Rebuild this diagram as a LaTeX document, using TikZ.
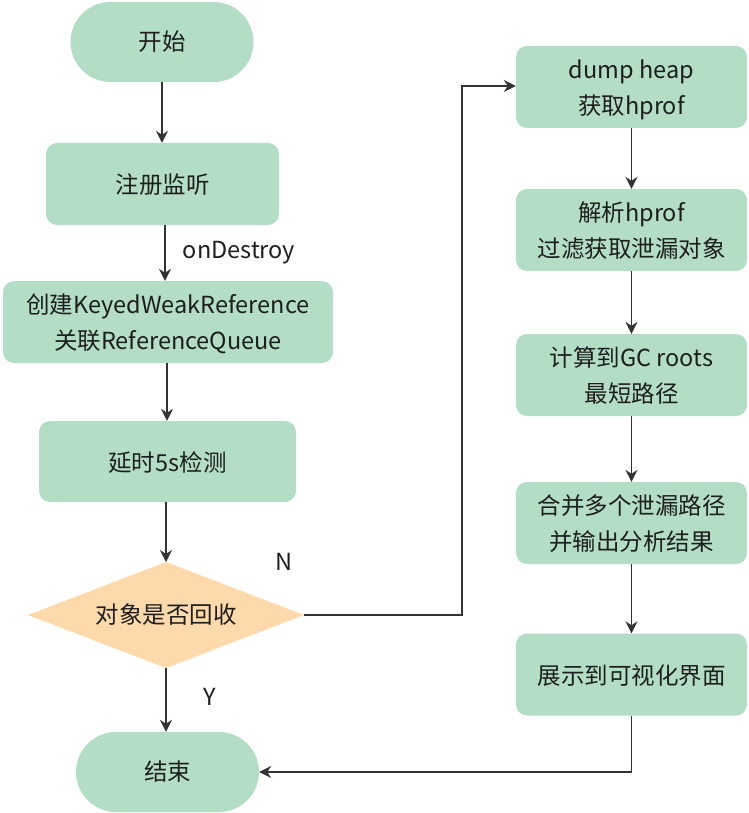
\documentclass[tikz,border=0pt]{standalone}
\usepackage{fontspec}
\setmainfont{Noto Sans CJK SC}
\usetikzlibrary{arrows.meta,positioning}
\definecolor{boxgreen}{HTML}{B3DEC5}
\definecolor{diaorange}{HTML}{FDD9AB}
\definecolor{linegray}{HTML}{333333}
\definecolor{txt}{HTML}{1E1E1E}
\begin{document}
\begin{tikzpicture}[x=1pt,y=-1pt,
  every node/.style={font=\fontsize{23.5}{36}\selectfont, text=txt},
  procbox/.style={draw=none, fill=boxgreen, rounded corners=11pt, align=center, inner sep=0pt, text depth=0pt},
  termbox/.style={draw=none, fill=boxgreen, rounded corners=40pt, align=center, inner sep=0pt},
  conn/.style={draw=linegray, line width=1.6pt, -{Stealth[length=12pt,width=12pt,inset=4pt]}},
  lbl/.style={inner sep=0pt}
]
\useasboundingbox (0,0) rectangle (748,813);
% left column
\node[termbox, minimum width=183pt, minimum height=80pt] (start) at (162,42) {开始};
\node[procbox, minimum width=233pt, minimum height=82pt] (reg) at (162.5,184) {注册监听};
\node[procbox, minimum width=330pt, minimum height=82pt] (create) at (168,322) {创建KeyedWeakReference\\关联ReferenceQueue};
\node[procbox, minimum width=257pt, minimum height=81pt] (delay) at (167.5,461.5) {延时5s检测};
\fill[diaorange] (28,615) -- (166,562) -- (304,615) -- (166,668) -- cycle;
\node[lbl] (decide) at (166,615) {对象是否回收};
\coordinate (dtop) at (166,562);
\coordinate (dbot) at (166,668);
\coordinate (dright) at (304,615);
\node[termbox, minimum width=183pt, minimum height=80pt] (finish) at (167.5,772) {结束};
% right column
\node[procbox, minimum width=231pt, minimum height=82pt] (dump) at (631.5,87) {dump heap\\获取hprof};
\node[procbox, minimum width=231pt, minimum height=82pt] (parse) at (631.5,230) {解析hprof\\过滤获取泄漏对象};
\node[procbox, minimum width=231pt, minimum height=82pt] (calc) at (631.5,375) {计算到GC roots\\最短路径};
\node[procbox, minimum width=231pt, minimum height=82pt] (merge) at (631.5,523) {合并多个泄漏路径\\并输出分析结果};
\node[procbox, minimum width=231pt, minimum height=82pt] (show) at (631.5,674.5) {展示到可视化界面};
% connectors
\coordinate (c1) at (162,82);
\draw[conn] (c1) -- (c1 |- reg.north);
\coordinate (c2) at (165,225);
\draw[conn] (c2) -- (c2 |- create.north) node[lbl, midway, right=17pt] (ondes) {onDestroy};
\coordinate (c3) at (167,363);
\draw[conn] (c3) -- (c3 |- delay.north);
\coordinate (c4) at (166,502);
\draw[conn] (c4) -- (dtop);
\draw[conn] (dbot) -- (dbot |- finish.north);
\coordinate (nturn1) at (462,615);
\coordinate (nturn2) at (462,86);
\draw[conn] (dright) -- (nturn1) -- (nturn2) -- (dump.west |- nturn2);
\node[lbl] (nlab) at (284,562) {N};
\node[lbl] (ylab) at (210,697) {Y};
\draw[conn] (dump.south) -- (parse.north);
\draw[conn] (parse.south) -- (calc.north);
\draw[conn] (calc.south) -- (merge.north);
\draw[conn] (merge.south) -- (show.north);
\draw[conn] (show.south) -- (show.south |- finish.east) -- (finish.east);
\end{tikzpicture}
\end{document}
